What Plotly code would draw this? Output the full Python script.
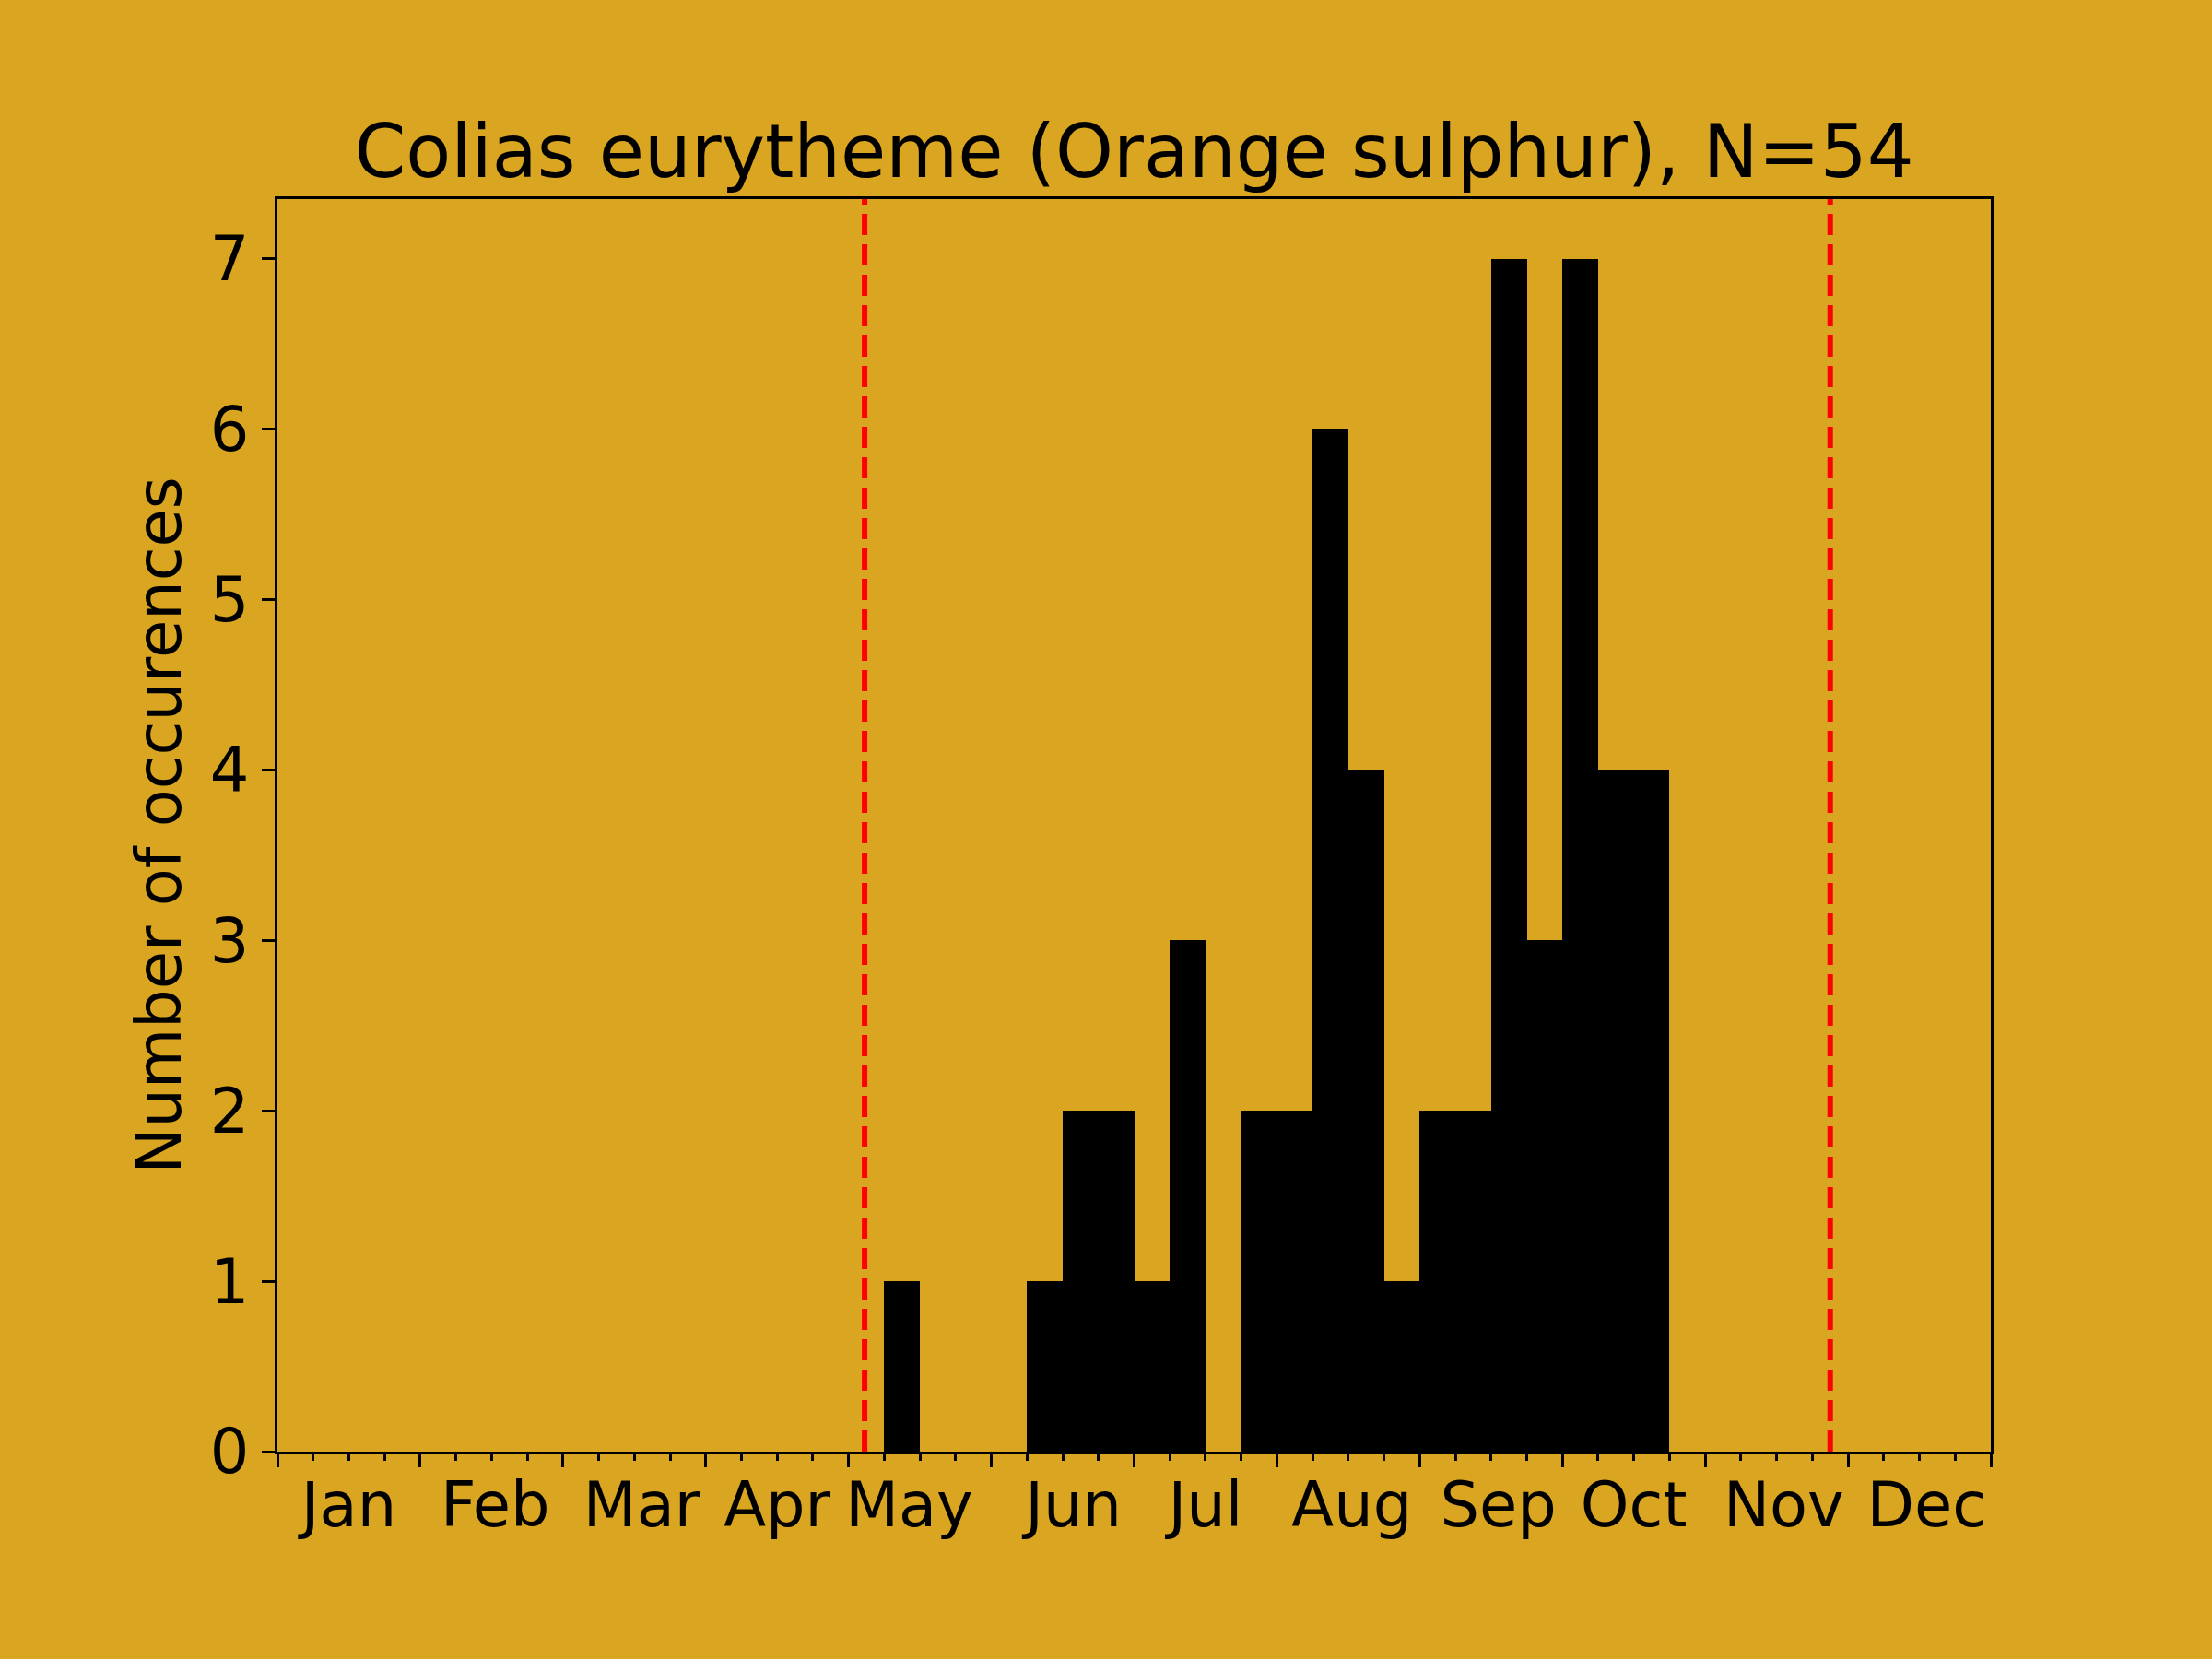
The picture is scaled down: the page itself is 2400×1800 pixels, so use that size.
import plotly.graph_objects as go

# ---- data ----
months = ["Jan", "Feb", "Mar", "Apr", "May", "Jun", "Jul", "Aug", "Sep", "Oct", "Nov", "Dec"]
month_label_pos = [2.0, 6.1, 10.2, 14.0, 17.7, 22.3, 26.0, 30.1, 34.2, 38.0, 42.2, 46.2]
bin_starts = list(range(48))
counts = [0] * 17 + [1, 0, 0, 0, 1, 2, 2, 1, 3, 0, 2, 2, 6, 4, 1, 2, 2, 7, 3, 7, 4, 4] + [0] * 9
vlines = [16.45, 43.5]
title = "Colias eurytheme (Orange sulphur), N=54"

BG = "#DAA520"
FONT = "DejaVu Sans"

W, H = 2400, 1800
L, R, T, B = 301, 2160, 216, 1575

fig = go.Figure()
fig.add_trace(go.Bar(
    x=[s + 0.5 for s in bin_starts], y=counts, width=1,
    marker=dict(color="black", line=dict(width=0)),
    showlegend=False, hoverinfo="skip",
))
# invisible trace so the label axis (x2) is drawn
fig.add_trace(go.Scatter(
    x=month_label_pos, y=[0] * len(month_label_pos), xaxis="x2", yaxis="y",
    mode="markers", marker=dict(opacity=0), showlegend=False, hoverinfo="skip",
))

for v in vlines:
    fig.add_shape(type="line", xref="x", yref="paper", x0=v, x1=v, y0=0, y1=1,
                  line=dict(color="red", width=6, dash="23px,10px"), layer="above")

fig.update_layout(
    width=W, height=H,
    paper_bgcolor=BG, plot_bgcolor=BG,
    margin=dict(l=L, r=W - R, t=T, b=H - B),
    font=dict(family=FONT, color="black", size=67),
    title=dict(text=title, x=(L + R) / 2 / W, xanchor="center",
               y=1 - 164 / H, yanchor="middle", yref="container",
               font=dict(size=80, family=FONT, color="black")),
    bargap=0,
    xaxis=dict(
        range=[0, 48], showgrid=False, zeroline=False,
        showline=True, linecolor="black", linewidth=3.3, mirror=True,
        tickmode="array", tickvals=list(range(0, 49, 4)),
        ticks="outside", ticklen=14, tickwidth=3, tickcolor="black",
        showticklabels=False,
        minor=dict(tickmode="linear", tick0=0, dtick=1, ticks="outside",
                   ticklen=7, tickwidth=2.7, tickcolor="black", showgrid=False),
    ),
    xaxis2=dict(
        range=[0, 48], overlaying="x", side="bottom", anchor="y",
        showgrid=False, zeroline=False, showline=False,
        tickmode="array", tickvals=month_label_pos, ticktext=months,
        ticks="outside", ticklen=0, tickwidth=1, tickcolor="rgba(0,0,0,0)",
        tickfont=dict(size=67, family=FONT, color="black"),
    ),
    yaxis=dict(
        range=[0, 7.35], showgrid=False, zeroline=False,
        showline=True, linecolor="black", linewidth=3.3, mirror=True,
        tickmode="array", tickvals=list(range(8)),
        ticks="outside", ticklen=14, tickwidth=3, tickcolor="black",
        tickfont=dict(size=67, family=FONT, color="black"),
        title=dict(text="Number of occurences", standoff=10,
                   font=dict(size=67, family=FONT, color="black")),
    ),
)

fig.write_html("out.html", config={"displayModeBar": False},
               post_script="document.body.style.margin='0';document.body.style.overflow='hidden';")
